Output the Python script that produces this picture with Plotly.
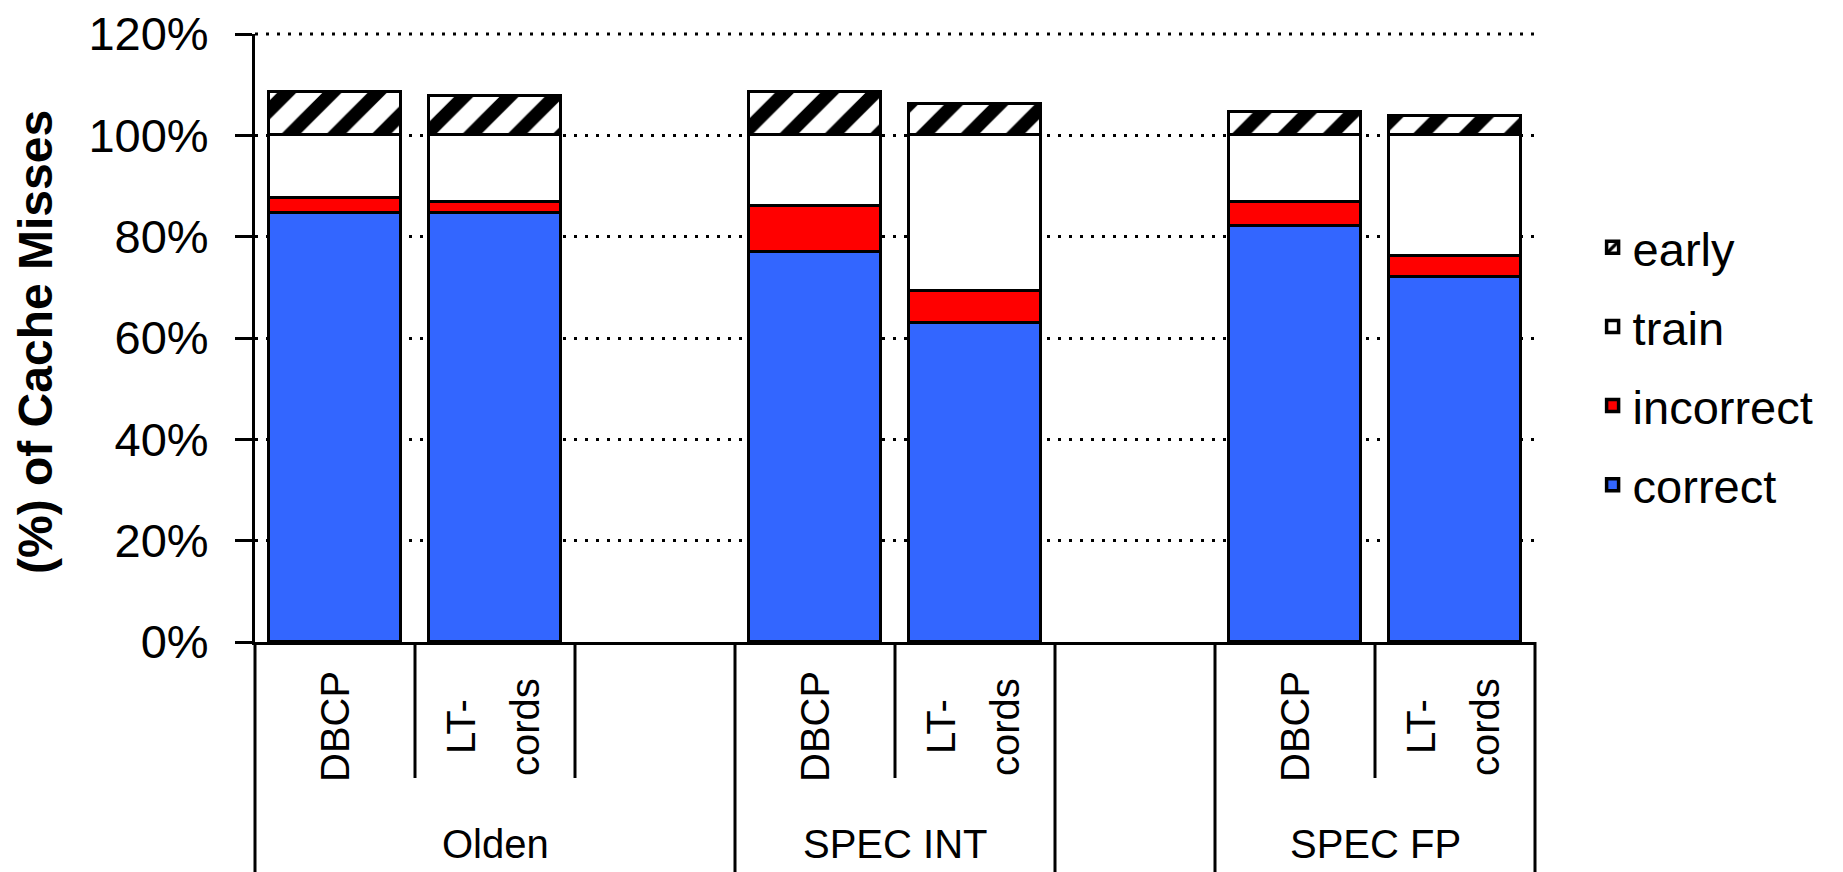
import plotly.graph_objects as go

# ---- data ----
groups = ["Olden", "SPEC INT", "SPEC FP"]
methods = ["DBCP", "LT-cords"]
series_names = ["correct", "incorrect", "train", "early"]
legend_order = ["early", "train", "incorrect", "correct"]
correct = [84.7, 84.7, 77.0, 63.0, 82.1, 72.1]
incorrect = [2.9, 2.1, 9.1, 6.3, 4.8, 4.1]
train = [12.4, 13.2, 13.9, 30.7, 13.1, 23.8]
early = [8.6, 7.8, 8.6, 6.2, 4.7, 3.9]
y_ticks = [0, 20, 40, 60, 80, 100, 120]
y_tick_labels = ["0%", "20%", "40%", "60%", "80%", "100%", "120%"]
y_title = "(%) of Cache Misses"
y_range = [0, 120]

# ---- category layout: slots on a numeric axis ----
# Olden occupies 3 slots (2 bars + blank), SPEC INT 2 slots, one blank slot, SPEC FP 2 slots
group_spans = [(0, 3), (3, 5), (6, 8)]
n_slots = 8
bar_slots = [0, 1, 3, 4, 6, 7]
xpos = [s + 0.5 for s in bar_slots]

FONT = "Liberation Sans, Arial, sans-serif"
BLACK = "#000000"
DASH = "3px,8px"

styles = {
    "correct": dict(color="#3366FF"),
    "incorrect": dict(color="#FF0000"),
    "train": dict(color="#FFFFFF"),
    "early": dict(color="#FFFFFF",
                  pattern=dict(shape="/", fgcolor=BLACK, bgcolor="#FFFFFF", fgopacity=1,
                               size=32, solidity=0.42)),
}
values = {"correct": correct, "incorrect": incorrect, "train": train, "early": early}

fig = go.Figure()
for name in series_names:
    fig.add_trace(go.Bar(
        x=xpos, y=values[name], name=name, width=0.83,
        legendgroup=name, legendrank=legend_order.index(name) + 1,
        marker=dict(line=dict(color=BLACK, width=3.5), **styles[name]),
        hoverinfo="skip",
    ))

# figure geometry (page has an 8px body margin, compensated here)
W, H = 1835, 864
L, R, T, B = 247, 308, 26, 230
plot_w = W - L - R
plot_h = H - T - B

def py(px_below):  # paper y for a pixel distance below the x axis
    return -px_below / plot_h

shapes = []
annotations = []
# group divider lines (full height) and bar divider lines (short)
full_bounds = sorted({b for span in group_spans for b in span})
short_bounds = [s for s in range(1, n_slots) if s not in full_bounds]
for b in full_bounds:
    shapes.append(dict(type="line", xref="paper", yref="paper",
                       x0=b / n_slots, x1=b / n_slots, y0=0, y1=py(260),
                       line=dict(color=BLACK, width=3)))
for b in short_bounds:
    shapes.append(dict(type="line", xref="paper", yref="paper",
                       x0=b / n_slots, x1=b / n_slots, y0=0, y1=py(136),
                       line=dict(color=BLACK, width=3)))
# top gridline (at the top tick, which is the top of the range) - paper ref so it is not clipped
top = (y_ticks[-1] - y_range[0]) / (y_range[1] - y_range[0])
shapes.append(dict(type="line", xref="paper", yref="paper", x0=0, x1=1,
                   y0=top, y1=top, layer="below",
                   line=dict(color=BLACK, width=3, dash=DASH)))

# method labels (rotated)
for i, x in enumerate(xpos):
    m = methods[i % 2]
    if "-" in m:
        first, second = m.split("-")
        parts = [(first + "-", -34), (second, 30)]
    else:
        parts = [(m, 0)]
    for txt, shift in parts:
        annotations.append(dict(x=x, xref="x", y=py(85), yref="paper", xshift=shift,
                                text=txt, textangle=-90, showarrow=False,
                                xanchor="center", yanchor="middle",
                                font=dict(family=FONT, size=40, color=BLACK)))
# group labels
for g, (a, b) in zip(groups, group_spans):
    annotations.append(dict(x=(a + b) / 2, xref="x", y=py(202), yref="paper",
                            text=g, showarrow=False, xanchor="center", yanchor="middle",
                            font=dict(family=FONT, size=40, color=BLACK)))
# y axis title
annotations.append(dict(x=-(L - 27) / plot_w, xref="paper", y=(634 - 568) / plot_h, yref="paper",
                        text=y_title, textangle=-90, showarrow=False,
                        xanchor="center", yanchor="bottom",
                        font=dict(family=FONT, size=48, color=BLACK, weight="bold")))

fig.update_layout(
    width=W, height=H,
    margin=dict(l=L, r=R, t=T, b=B, pad=0, autoexpand=False),
    paper_bgcolor="white", plot_bgcolor="white",
    barmode="stack",
    bargap=0,
    showlegend=True,
    legend=dict(x=1.045, y=0.71, xanchor="left", yanchor="top",
                traceorder="grouped", tracegroupgap=15,
                font=dict(family=FONT, size=47, color=BLACK),
                bgcolor="rgba(0,0,0,0)", itemwidth=30),
    shapes=shapes,
    annotations=annotations,
    xaxis=dict(range=[0, n_slots], showticklabels=False, ticks="", showgrid=False,
               zeroline=False, showline=True, linecolor=BLACK, linewidth=3,
               automargin=False, fixedrange=True),
    yaxis=dict(range=y_range, tickvals=y_ticks, ticktext=y_tick_labels,
               ticks="outside", ticklen=17, tickwidth=3, tickcolor=BLACK,
               showline=True, linecolor=BLACK, linewidth=3,
               showgrid=True, gridcolor=BLACK, gridwidth=3, griddash=DASH,
               zeroline=False, ticklabelstandoff=17, ticklabeloverflow="allow",
               automargin=False,
               tickfont=dict(family=FONT, size=47, color=BLACK), fixedrange=True),
)

fig.write_html("out.html")
